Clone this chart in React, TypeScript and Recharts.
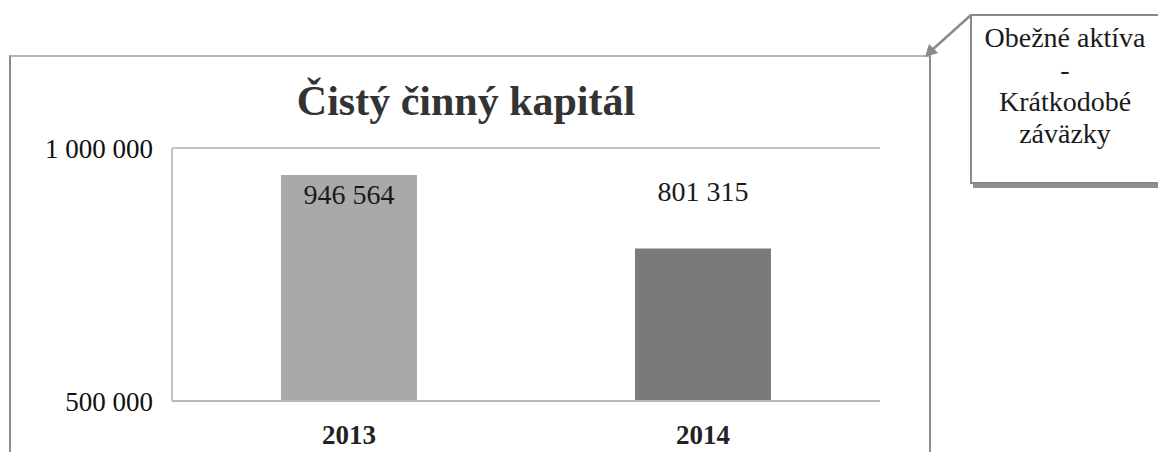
import { Bar, BarChart, CartesianGrid, Cell, LabelList, XAxis, YAxis } from "recharts"

const years = ["2013", "2014"]
const values = [946564, 801315]
const barColors = ["#a9a9a9", "#7a7a7a"]
const yTicks = [500000, 1000000]
const chartTitle = "Čistý činný kapitál"
const calloutLines = ["Obežné aktíva", "-", "Krátkodobé", "záväzky"]

const data = years.map((year, i) => ({ year, value: values[i] }))

const serif = "Liberation Serif, DejaVu Serif, serif"

// thousands separated by a space, e.g. 946 564
const fmt = (v: number) => String(v).replace(/\B(?=(\d{3})+(?!\d))/g, " ")

function ValueLabel(props: any) {
  const { x, y, width, value, index } = props
  // first label sits inside the bar top, the second floats above its bar
  const ty = index === 0 ? y + 29 : y - 48
  return (
    <text
      x={x + width / 2}
      y={ty}
      textAnchor="middle"
      style={{ fontFamily: serif }}
      fontSize={28}
      fill="#1a1a1a"
    >
      {fmt(value)}
    </text>
  )
}

export default function App() {
  return (
    <div
      style={{
        position: "relative",
        width: 1166,
        height: 460,
        margin: -8,
        overflow: "hidden",
        background: "#fff",
        fontFamily: serif,
      }}
    >
      {/* chart frame */}
      <div
        style={{
          position: "absolute",
          left: 9,
          top: 55,
          width: 918,
          height: 440,
          borderLeft: "2px solid #8c8c8c",
          borderRight: "2px solid #8c8c8c",
          borderTop: "2px solid #b5b5b5",
        }}
      />
      <div
        style={{
          position: "absolute",
          left: 166,
          width: 600,
          top: 77,
          textAlign: "center",
          fontSize: 42,
          fontWeight: "bold",
          color: "#333",
          lineHeight: "48px",
        }}
      >
        {chartTitle}
      </div>

      <div style={{ position: "absolute", left: 0, top: 0 }}>
        <BarChart
          width={1166}
          height={460}
          data={data}
          margin={{ top: 148, right: 286, bottom: 29, left: 0 }}
          style={{ fontFamily: serif }}
        >
          <CartesianGrid vertical={false} stroke="#c4c4c4" strokeWidth={2} />
          <XAxis
            dataKey="year"
            height={30}
            axisLine={{ stroke: "#b8b8b8", strokeWidth: 2 }}
            tickLine={false}
            tickSize={0}
            tickMargin={24}
            tick={{ fontFamily: serif, fontSize: 27, fontWeight: "bold", fill: "#222" }}
          />
          <YAxis
            width={172}
            domain={[500000, 1000000]}
            ticks={yTicks}
            tickFormatter={fmt}
            axisLine={{ stroke: "#c4c4c4", strokeWidth: 2 }}
            tickLine={false}
            tickSize={0}
            tickMargin={19}
            tick={{ fontFamily: serif, fontSize: 27, fill: "#111" }}
          />
          <Bar dataKey="value" barSize={136} isAnimationActive={false}>
            {data.map((d, i) => (
              <Cell key={d.year} fill={barColors[i]} />
            ))}
            <LabelList dataKey="value" content={ValueLabel} />
          </Bar>
        </BarChart>
      </div>

      {/* callout box */}
      <div
        style={{
          position: "absolute",
          left: 970,
          top: 14,
          width: 190,
          height: 170,
          border: "2px solid #8a8a8a",
          boxShadow: "3px 4px 0 #8f8f8f",
          background: "#fff",
          textAlign: "center",
          fontSize: 28,
          color: "#1a1a1a",
          paddingTop: 6,
          boxSizing: "border-box",
        }}
      >
        {calloutLines.map((line) => (
          <div key={line} style={{ lineHeight: "32px" }}>
            {line}
          </div>
        ))}
      </div>
      <svg
        width={1166}
        height={460}
        style={{ position: "absolute", left: 0, top: 0, pointerEvents: "none" }}
      >
        <line x1={971} y1={15} x2={932} y2={50} stroke="#8a8a8a" strokeWidth={2.5} />
        <polygon points="925,57 929,44 938,53" fill="#8a8a8a" />
      </svg>
    </div>
  )
}
